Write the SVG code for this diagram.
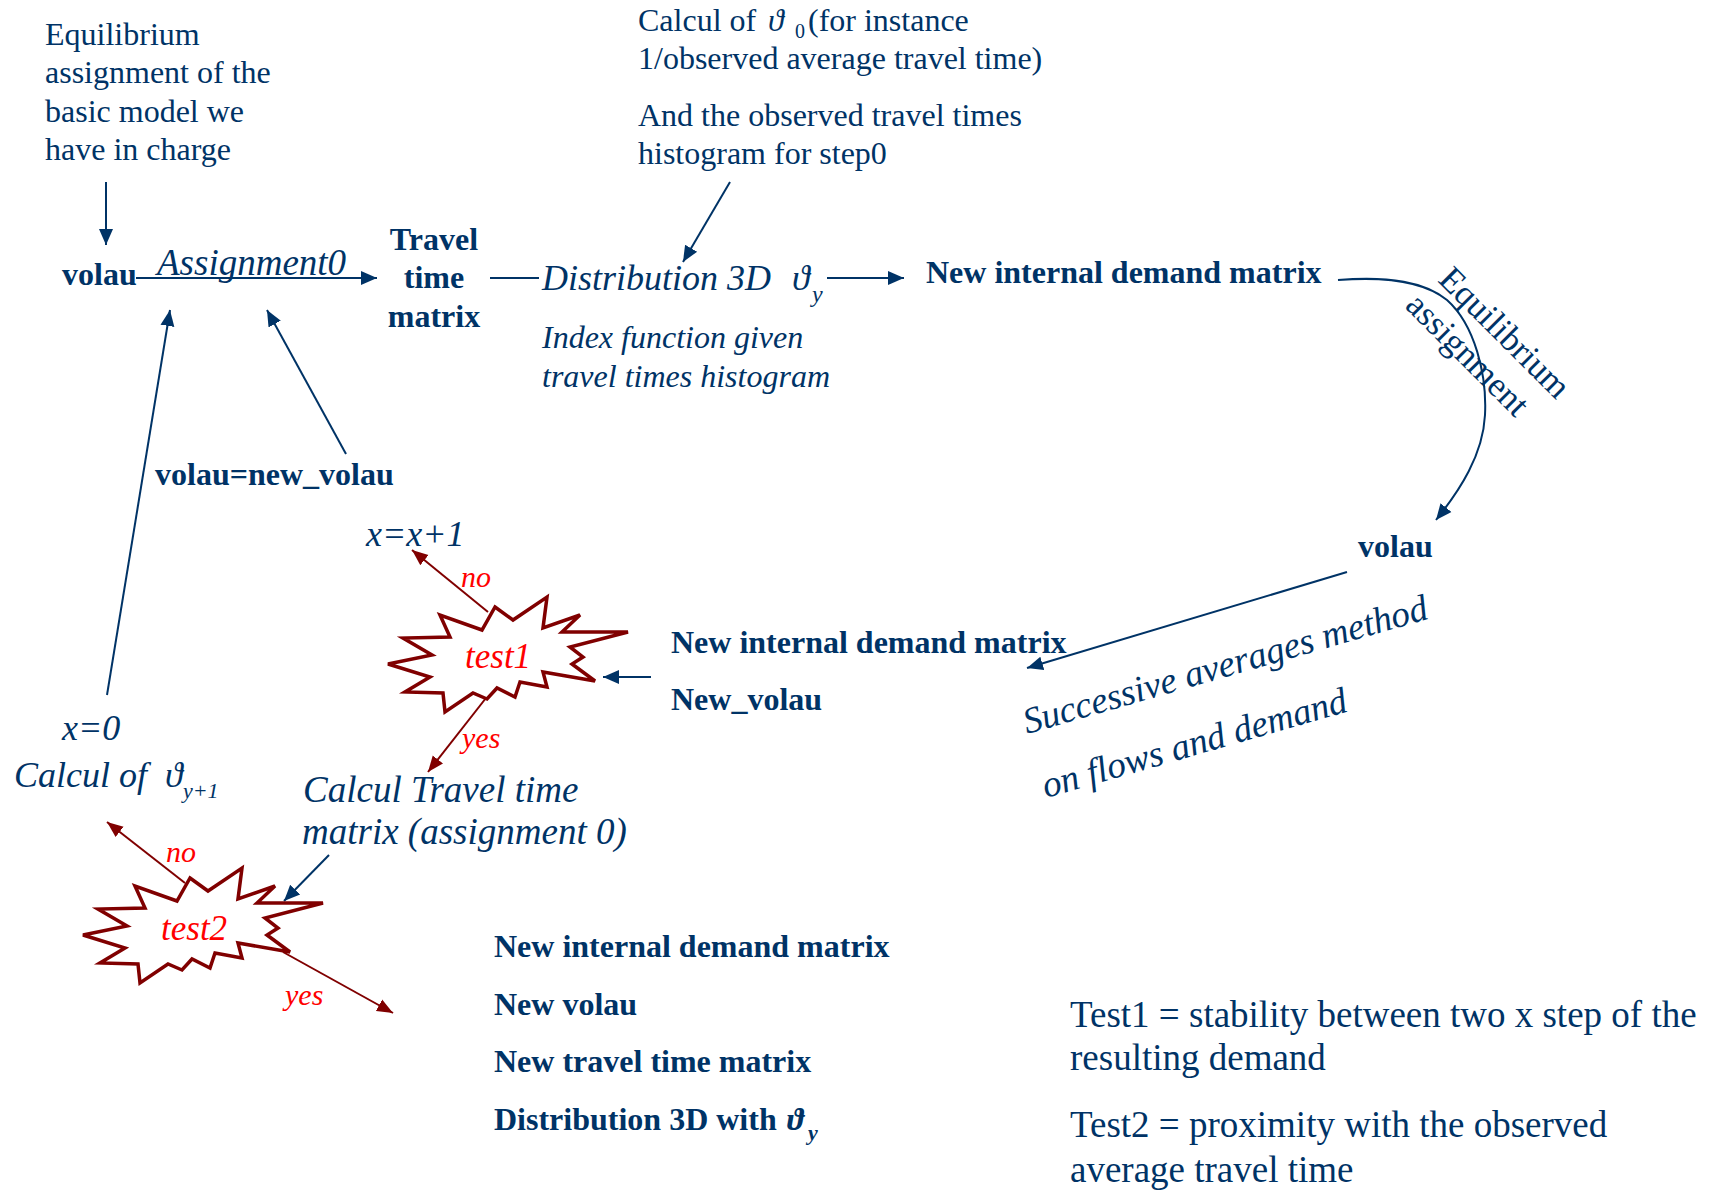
<svg xmlns="http://www.w3.org/2000/svg" width="1724" height="1191" viewBox="0 0 1724 1191">
<defs>
<marker id="ah" markerUnits="userSpaceOnUse" markerWidth="18" markerHeight="16" refX="16" refY="8" orient="auto"><path d="M0,1 L16,8 L0,15 z" fill="#003366"/></marker>
<marker id="ahr" markerUnits="userSpaceOnUse" markerWidth="18" markerHeight="16" refX="16" refY="8" orient="auto"><path d="M0,1.5 L16,8 L0,14.5 z" fill="#800000"/></marker>
<polygon id="burst" points="495,607 513,620 547,597 543,628 580,615 562,632 628,632 570,647 583,657 572,664 595,681 543,672 547,687 520,682 515,697 497,688 487,699 473,693 445,712 443,693 405,692 430,677 388,664 432,655 403,638 450,637 440,615 482,630"/>
</defs>
<style>
.t{font-family:"Liberation Serif","Times New Roman","DejaVu Serif",serif;fill:#003366}
.b{font-weight:bold;font-size:32px}
.r{font-size:32px}
.r37{font-size:37px}
.i{font-style:italic;font-size:36px}
.i37{font-style:italic;font-size:37px}
.i32{font-style:italic;font-size:32px}
.red{fill:#ff0000;font-style:italic}
.ln{stroke:#003366;stroke-width:2;fill:none}
.lr{stroke:#800000;stroke-width:2;fill:none}
.star{fill:#ffffff;stroke:#800000;stroke-width:3.5;stroke-linejoin:miter}
</style>
<rect width="1724" height="1191" fill="#ffffff"/>

<g id="connectors">
<path class="ln" d="M106,182 L106,245" marker-end="url(#ah)"/>
<path class="ln" d="M136,278 L377,278" marker-end="url(#ah)"/>
<path class="ln" d="M490,278 L539,278"/>
<path class="ln" d="M730,182 L683,262" marker-end="url(#ah)"/>
<path class="ln" d="M827,278 L904,278" marker-end="url(#ah)"/>
<path class="ln" d="M1338,280 C1390,276 1425,282 1447,300 C1475,325 1487,375 1485,415 C1483,455 1460,490 1436,520" marker-end="url(#ah)"/>
<path class="ln" d="M1347,572 L1027,668" marker-end="url(#ah)"/>
<path class="ln" d="M651,677 L603,677" marker-end="url(#ah)"/>
<path class="ln" d="M107,695 L170,310" marker-end="url(#ah)"/>
<path class="ln" d="M346,454 L267,310" marker-end="url(#ah)"/>
<path class="ln" d="M329,855 L284,901" marker-end="url(#ah)"/>
<path class="lr" d="M488,612 L412,550" marker-end="url(#ahr)"/>
<path class="lr" d="M486,698 L428,772" marker-end="url(#ahr)"/>
<path class="lr" d="M185,883 L107,822" marker-end="url(#ahr)"/>
<path class="lr" d="M283,952 L393,1013" marker-end="url(#ahr)"/>
</g>

<g id="note-equilibrium" class="t r">
<text x="45" y="45">Equilibrium</text>
<text x="45" y="83">assignment of the</text>
<text x="45" y="122">basic model we</text>
<text x="45" y="160">have in charge</text>
</g>

<g id="note-theta0" class="t r">
<text x="638" y="31">Calcul of <tspan x="768" font-style="italic">ϑ</tspan><tspan x="795" y="38" font-size="20">0</tspan><tspan x="808" y="31">(for instance</tspan></text>
<text x="638" y="69">1/observed average travel time)</text>
<text x="638" y="126">And the observed travel times</text>
<text x="638" y="164">histogram for step0</text>
</g>

<g id="volau0"><text class="t b" x="62" y="285">volau</text></g>
<g id="assignment0-label"><text class="t i37" x="157" y="275">Assignment0</text></g>

<g id="travel-time-matrix" class="t b" text-anchor="middle">
<text x="434" y="250">Travel</text>
<text x="434" y="288">time</text>
<text x="434" y="327">matrix</text>
</g>

<g id="distribution3d">
<text class="t i" x="542" y="290">Distribution 3D <tspan x="792">ϑ</tspan><tspan x="812" y="302" font-size="24">y</tspan></text>
<text class="t i32" x="542" y="348">Index function given</text>
<text class="t i32" x="542" y="387">travel times histogram</text>
</g>

<g id="new-demand-top"><text class="t b" x="926" y="283">New internal demand matrix</text></g>

<g id="eq-assignment-label" class="t" font-size="35">
<text transform="translate(1437,281) rotate(45)">Equilibrium</text>
<text transform="translate(1404,307) rotate(45)">assignment</text>
</g>

<g id="volau-right"><text class="t b" x="1358" y="557">volau</text></g>

<g id="volau-update"><text class="t b" x="155" y="485">volau=new_volau</text></g>

<g id="x-increment"><text class="t i" x="366" y="546">x=x+1</text></g>

<g id="test1">
<use href="#burst" class="star"/>
<text class="t red" font-size="35" x="465" y="668">test1</text>
</g>
<g id="test1-labels" class="t red" font-size="30">
<text x="461" y="587">no</text>
<text x="462" y="748">yes</text>
</g>

<g id="new-demand-mid" class="t b">
<text x="671" y="653">New internal demand matrix</text>
<text x="671" y="710">New_volau</text>
</g>

<g id="msa-label" class="t i37">
<text transform="translate(1027,734) rotate(-16)">Successive averages method</text>
<text transform="translate(1046,798) rotate(-16)">on flows and demand</text>
</g>

<g id="x-reset" class="t i">
<text x="62" y="740">x=0</text>
<text x="14" y="787">Calcul of <tspan x="165">ϑ</tspan><tspan x="183" y="798" font-size="22">y+1</tspan></text>
</g>

<g id="calcul-travel" class="t i37">
<text x="303" y="802">Calcul Travel time</text>
<text x="302" y="844">matrix (assignment 0)</text>
</g>

<g id="test2">
<use href="#burst" class="star" transform="translate(-305,271)"/>
<text class="t red" font-size="35" x="161" y="940">test2</text>
</g>
<g id="test2-labels" class="t red" font-size="30">
<text x="166" y="862">no</text>
<text x="285" y="1005">yes</text>
</g>

<g id="outputs" class="t b">
<text x="494" y="957">New internal demand matrix</text>
<text x="494" y="1015">New volau</text>
<text x="494" y="1072">New travel time matrix</text>
<text x="494" y="1130">Distribution 3D with <tspan x="787" font-style="italic">ϑ</tspan><tspan x="808" y="1140" font-size="22" font-style="italic">y</tspan></text>
</g>

<g id="legend" class="t r37">
<text x="1070" y="1027">Test1 = stability between two x step of the</text>
<text x="1070" y="1070">resulting demand</text>
<text x="1070" y="1137">Test2 = proximity with the observed</text>
<text x="1070" y="1182">average travel time</text>
</g>
</svg>
